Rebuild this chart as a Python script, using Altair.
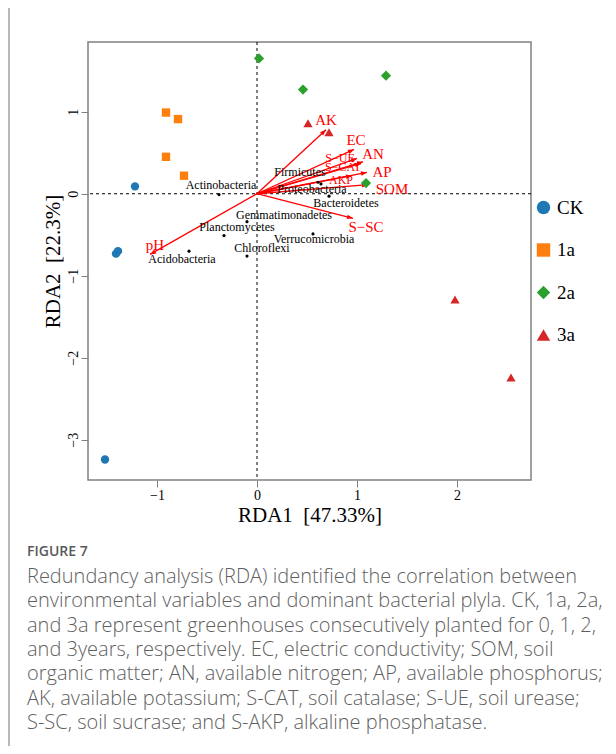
import math
import altair as alt
import pandas as pd

SERIF = "Liberation Serif"
SANS = "Open Sans"

# ---- sample scores ----
groups = ["CK", "CK", "CK", "CK", "1a", "1a", "1a", "1a",
          "2a", "2a", "2a", "2a", "3a", "3a", "3a", "3a"]
sx = [-1.22, -1.39, -1.41, -1.52, -0.91, -0.79, -0.91, -0.73,
      0.02, 0.46, 1.29, 1.09, 0.51, 0.72, 1.98, 2.54]
sy = [0.09, -0.70, -0.73, -3.24, 0.99, 0.91, 0.45, 0.22,
      1.65, 1.27, 1.44, 0.13, 0.86, 0.75, -1.29, -2.24]
group_order = ["CK", "1a", "2a", "3a"]
group_colors = ["#1f77b4", "#ff7f0e", "#2ca02c", "#d62728"]
group_shapes = ["circle", "square", "diamond", "triangle-up"]
group_sizes = {"CK": 70, "1a": 70, "2a": 105, "3a": 85}

# ---- environmental arrows ----
env = ["AK", "EC", "S\u2212UE", "AN", "S\u2212CAT", "AP", "AKP", "SOM", "S\u2212SC", "pH"]
ex = [0.69, 0.97, 1.00, 1.06, 1.04, 1.10, 0.95, 1.11, 0.96, -1.07]
ey = [0.78, 0.54, 0.43, 0.39, 0.37, 0.26, 0.22, 0.11, -0.30, -0.74]
elx = [0.69, 0.99, 0.83, 1.16, 0.86, 1.25, 0.84, 1.35, 1.09, -1.02]
ely = [0.90, 0.66, 0.43, 0.49, 0.32, 0.27, 0.17, 0.06, -0.40, -0.62]
efs = [15, 15, 12, 15, 12, 15, 12, 15, 15, 15]

# ---- species (phyla) ----
sp = ["Actinobacteria", "Firmicutes", "Proteobacteria", "Bacteroidetes",
      "Gemmatimonadetes", "Planctomycetes", "Verrucomicrobia",
      "Acidobacteria", "Chloroflexi"]
spx = [-0.38, 0.61, 0.64, 0.72, -0.10, -0.33, 0.56, -0.68, -0.10]
spy = [-0.01, 0.14, 0.12, -0.03, -0.34, -0.51, -0.49, -0.70, -0.76]
splx = [-0.36, 0.43, 0.55, 0.89, 0.27, -0.20, 0.57, -0.75, 0.05]
sply = [0.11, 0.27, 0.06, -0.11, -0.26, -0.41, -0.55, -0.80, -0.66]

x_ticks = [-1, 0, 1, 2]
y_ticks = [-3, -2, -1, 0, 1]
x_dom = [-1.69, 2.74]
y_dom = [-3.49, 1.85]

caption_head = "FIGURE 7"
caption_lines = [
    "Redundancy analysis (RDA) identified the correlation between",
    "environmental variables and dominant bacterial plyla. CK, 1a, 2a,",
    "and 3a represent greenhouses consecutively planted for 0, 1, 2,",
    "and 3years, respectively. EC, electric conductivity; SOM, soil",
    "organic matter; AN, available nitrogen; AP, available phosphorus;",
    "AK, available potassium; S-CAT, soil catalase; S-UE, soil urease;",
    "S-SC, soil sucrase; and S-AKP, alkaline phosphatase.",
]

W, H = 443, 438
kx = W / (x_dom[1] - x_dom[0])
ky = H / (y_dom[1] - y_dom[0])

samples = pd.DataFrame({"group": groups, "x": sx, "y": sy})
samples["sz"] = samples["group"].map(group_sizes)
arrows = pd.DataFrame({"name": env, "x0": 0.0, "y0": 0.0, "ex": ex, "ey": ey,
                       "lx": elx, "ly": ely, "fs": efs})
arrows["ang"] = [math.degrees(math.atan2(-b * ky, a * kx)) % 360 for a, b in zip(ex, ey)]
species = pd.DataFrame({"name": sp, "x": spx, "y": spy, "lx": splx, "ly": sply})

xs = alt.Scale(domain=x_dom, nice=False, zero=False)
ys = alt.Scale(domain=y_dom, nice=False, zero=False)

X = lambda f: alt.X(f, type="quantitative", scale=xs,
                    axis=alt.Axis(values=x_ticks, title="RDA1\u00a0\u00a0[47.33%]", titlePadding=2))
Y = lambda f: alt.Y(f, type="quantitative", scale=ys,
                    axis=alt.Axis(values=y_ticks, title="RDA2\u00a0\u00a0[22.3%]",
                                  labelAngle=270, labelAlign="center", labelBaseline="bottom",
                                  titlePadding=3))

zero_v = alt.Chart(pd.DataFrame({"z": [0.0]})).mark_rule(
    color="black", strokeDash=[3, 3], strokeWidth=1).encode(x=X("z"))
zero_h = alt.Chart(pd.DataFrame({"z": [0.0]})).mark_rule(
    color="black", strokeDash=[3, 3], strokeWidth=1).encode(y=Y("z"))

arrow_lines = alt.Chart(arrows).mark_rule(color="#ff0000", strokeWidth=1.3).encode(
    x=X("x0"), y=Y("y0"), x2="ex:Q", y2="ey:Q")
arrow_heads = alt.Chart(arrows).mark_point(
    shape="M0,0L-1,-0.38L-1,0.38Z", filled=True, size=144, color="#ff0000", opacity=1
).encode(x=X("ex"), y=Y("ey"), angle=alt.Angle("ang:Q", scale=None))
arrow_text = alt.Chart(arrows).mark_text(
    font=SERIF, color="#ff0000", align="center", baseline="middle"
).encode(x=X("lx"), y=Y("ly"), text="name:N", size=alt.Size("fs:Q", scale=None))

sp_pts = alt.Chart(species).mark_circle(color="black", size=10, opacity=1).encode(
    x=X("x"), y=Y("y"))
sp_text = alt.Chart(species).mark_text(
    font=SERIF, fontSize=12, color="black", align="center", baseline="middle"
).encode(x=X("lx"), y=Y("ly"), text="name:N")

leg = alt.Legend(title=None, orient="none", legendX=446, legendY=156,
                 symbolSize=180, labelFont=SERIF, labelFontSize=19,
                 labelColor="black", rowPadding=22.5, labelOffset=4,
                 symbolStrokeWidth=0)
pts = alt.Chart(samples).mark_point(filled=True, opacity=1).encode(
    x=X("x"), y=Y("y"),
    color=alt.Color("group:N", scale=alt.Scale(domain=group_order, range=group_colors),
                    sort=group_order, legend=leg),
    shape=alt.Shape("group:N", scale=alt.Scale(domain=group_order, range=group_shapes),
                    sort=group_order, legend=leg),
    size=alt.Size("sz:Q", scale=None),
)

dummy = pd.DataFrame({"a": [0]})
frame_left = alt.Chart(dummy).mark_rule(color="#a0a0a0", strokeWidth=1.5).encode(
    x=alt.value(-79), y=alt.value(-35), y2=alt.value(H + 266))
frame_top = alt.Chart(dummy).mark_rule(color="#a0a0a0", strokeWidth=1.5).encode(
    x=alt.value(-79), x2=alt.value(W + 77), y=alt.value(-35))

cap_layers = [alt.Chart(dummy).mark_text(
    text=caption_head, font=SANS, fontSize=14, fontWeight=600, color="#58595b",
    align="left", baseline="middle").encode(x=alt.value(-61), y=alt.value(510))]
cap_y = [535, 559, 584, 608, 632, 657, 681]
for line, yy in zip(caption_lines, cap_y):
    cap_layers.append(alt.Chart(dummy).mark_text(
        text=line, font=SANS, fontSize=20, fontWeight=300, color="#5f5f61",
        align="left", baseline="middle").encode(x=alt.value(-61), y=alt.value(yy)))

chart = alt.layer(
    zero_v, zero_h, arrow_lines, arrow_heads, sp_pts, sp_text, arrow_text, pts,
    frame_left, frame_top, *cap_layers
).properties(
    width=W, height=H,
    autosize=alt.AutoSizeParams(type="none"),
    padding={"left": 80, "top": 34, "right": 77, "bottom": 266},
).configure_view(
    stroke="#808080", strokeWidth=1.5
).configure_axis(
    domain=False, grid=False, tickColor="#808080", tickSize=7, tickWidth=1,
    labelFont=SERIF, labelFontSize=14, labelColor="black", labelPadding=1,
    titleFont=SERIF, titleFontSize=21, titleFontWeight="normal", titleColor="black",
).configure_legend(
    labelFont=SERIF, labelFontSize=19, labelColor="black"
)

chart.save("out.html", embed_options={"renderer": "svg", "actions": False})
